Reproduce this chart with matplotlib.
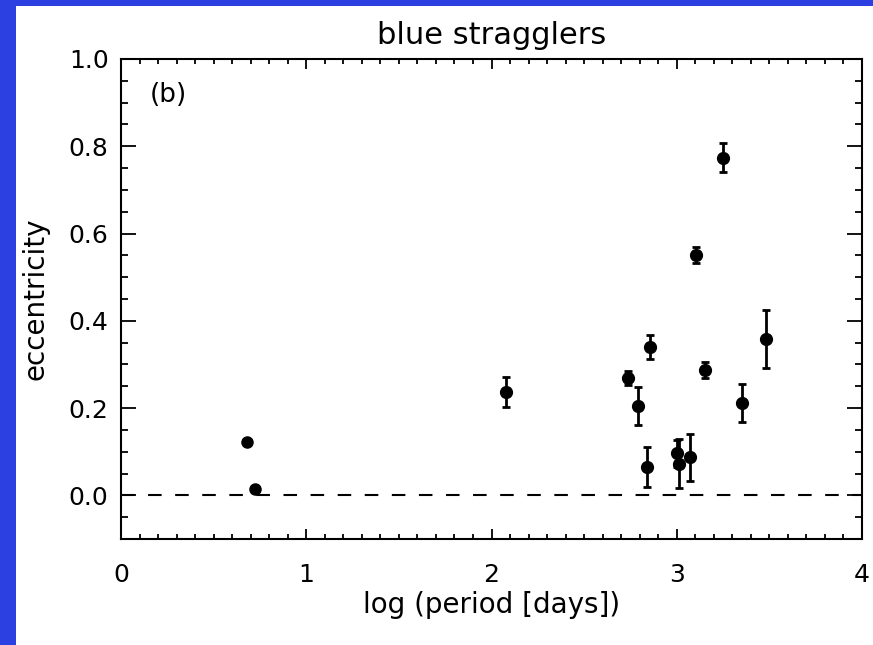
import matplotlib
matplotlib.use("Agg")
import matplotlib.pyplot as plt
from matplotlib.patches import Rectangle
from matplotlib.ticker import MultipleLocator

# Blue straggler binaries: log period vs eccentricity
LOG_PERIOD = [0.68, 0.723, 2.08, 2.738, 2.79, 2.839, 2.857, 3.00, 3.013,
              3.069, 3.105, 3.152, 3.25, 3.35, 3.481]
ECC = [0.122, 0.014, 0.237, 0.269, 0.205, 0.065, 0.340, 0.096, 0.073,
       0.087, 0.551, 0.287, 0.774, 0.212, 0.358]
ECC_ERR = [0.0, 0.0, 0.034, 0.016, 0.044, 0.046, 0.027, 0.030, 0.056,
           0.053, 0.018, 0.019, 0.034, 0.043, 0.067]

BLUE = "#2c3fe0"
INK = "black"

fig = plt.figure(figsize=(8.73, 6.45), dpi=100)
fig.patch.set_facecolor("white")
fig.patches.append(Rectangle((0, 0), 16 / 873, 1, transform=fig.transFigure,
                             facecolor=BLUE, edgecolor="none", zorder=0))
fig.patches.append(Rectangle((0, 1 - 6 / 645), 1, 6 / 645, transform=fig.transFigure,
                             facecolor=BLUE, edgecolor="none", zorder=0))

ax = fig.add_axes([121 / 873, 106 / 645, 741 / 873, 480 / 645])

with_err = [i for i, e in enumerate(ECC_ERR) if e > 0]
no_err = [i for i, e in enumerate(ECC_ERR) if e == 0]

ax.errorbar([LOG_PERIOD[i] for i in with_err], [ECC[i] for i in with_err],
            yerr=[ECC_ERR[i] for i in with_err], fmt="o", color=INK,
            markersize=8.5, elinewidth=2.0, capsize=3, capthick=2.0, zorder=3)
ax.plot([LOG_PERIOD[i] for i in no_err], [ECC[i] for i in no_err], "o",
        color=INK, markersize=8, zorder=3)

ax.axhline(0.0, color=INK, linewidth=1.5, linestyle=(0, (6.5, 6.5)), zorder=2)

ax.set_xlim(0, 4)
ax.set_ylim(-0.1, 1.0)
ax.xaxis.set_major_locator(MultipleLocator(1))
ax.xaxis.set_minor_locator(MultipleLocator(0.1))
ax.yaxis.set_major_locator(MultipleLocator(0.2))
ax.yaxis.set_minor_locator(MultipleLocator(0.05))
ax.xaxis.set_major_formatter(plt.FuncFormatter(lambda v, p: f"{v:.0f}"))
ax.yaxis.set_major_formatter(plt.FuncFormatter(lambda v, p: f"{v:.1f}"))

for s in ax.spines.values():
    s.set_linewidth(1.5)

ax.tick_params(axis="both", which="both", direction="in", top=True, right=True,
               width=1.3, labelsize=18, colors=INK)
ax.tick_params(axis="x", which="major", length=7, pad=17)
ax.tick_params(axis="x", which="minor", length=3.6)
ax.tick_params(axis="y", which="major", length=10.5, pad=9)
ax.tick_params(axis="y", which="minor", length=5)

ax.set_title("blue stragglers", fontsize=22, pad=11)
ax.set_xlabel("log (period [days])", fontsize=20, labelpad=3)
ax.set_ylabel("eccentricity", fontsize=20, labelpad=14)

ax.text(0.039, 0.925, "(b)", transform=ax.transAxes, fontsize=19,
        ha="left", va="center")

fig.savefig("out.png", dpi=100, facecolor="white")
